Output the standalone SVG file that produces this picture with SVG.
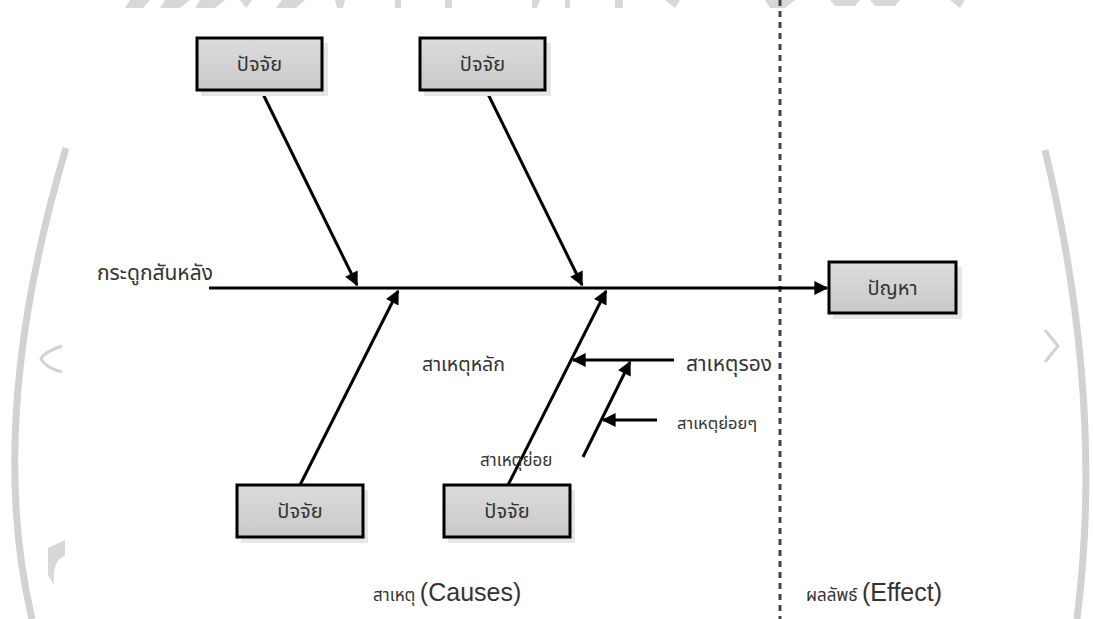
<svg xmlns="http://www.w3.org/2000/svg" width="1093" height="619" viewBox="0 0 1093 619">
<defs>
<linearGradient id="boxfill" x1="0" y1="0" x2="0" y2="1">
<stop offset="0" stop-color="#dcdcdc"/>
<stop offset="1" stop-color="#c9c9c9"/>
</linearGradient>
<marker id="ahb" viewBox="0 0 10 10" refX="9" refY="5" markerWidth="16" markerHeight="14" markerUnits="userSpaceOnUse" orient="auto">
<path d="M0,0 L10,5 L0,10 z" fill="#000"/>
</marker>
</defs>
<style>
.wm{fill:none;stroke:#d2d2d2;stroke-width:7}
.wmf{fill:#d8d8d8}
.box{fill:url(#boxfill);stroke:#000;stroke-width:3}
.shadow{fill:#e6e6e6}
.t{font-family:"Noto Sans Thai","Liberation Sans","DejaVu Sans",sans-serif;fill:#333}
.lat{font-family:"Liberation Sans",Arial,sans-serif}
.bone{stroke:#000;stroke-width:3;fill:none;marker-end:url(#ahb)}
.sub{stroke:#000;stroke-width:3;fill:none;marker-end:url(#ahb)}
</style>
<rect width="1093" height="619" fill="#fff"/>
<g id="watermark">
<path class="wm" d="M66,148 Q-15,420 32,619"/>
<path class="wm" d="M1045,150 Q1105,400 1077,619"/>
<path d="M62,346 Q44,352 41,359 Q46,368 62,372" fill="none" stroke="#d2d2d2" stroke-width="3"/>
<path d="M1045,330 L1058,346 L1045,362" fill="none" stroke="#d2d2d2" stroke-width="3"/>
<path d="M48,548 L65,540 L65,556 Q52,560 54,585 L48,575 z" class="wmf"/>
<path class="wmf" d="M130,0 L150,0 L143,8 L125,8 z M165,0 L190,0 L180,8 L160,8 z M200,0 L225,0 L215,8 L195,8 z M240,0 L252,0 L246,8 z M282,0 L305,0 L296,8 L276,8 z M335,0 L345,0 L343,8 L337,8 z M395,0 L401,0 L401,8 L395,8 z M445,0 L452,0 L452,8 L445,8 z M532,0 L540,0 L537,8 L532,8 z M565,0 L570,0 L570,8 L565,8 z M615,0 L623,0 L623,8 L615,8 z M665,0 L680,0 L675,8 z M765,0 L795,0 L785,8 L770,8 z M830,0 L860,0 L855,6 L835,6 z M870,0 L900,0 L895,6 L875,6 z M950,0 L965,0 L960,8 z"/>
</g>
<g id="divider">
<line x1="780" y1="0" x2="780" y2="619" stroke="#444" stroke-width="3" stroke-dasharray="6,5"/>
</g>
<g id="connectors">
<line x1="209" y1="288" x2="827" y2="288" stroke="#000" stroke-width="3" marker-end="url(#ahb)"/>
<line class="bone" x1="262" y1="92" x2="357" y2="285"/>
<line class="bone" x1="487" y1="92" x2="582" y2="285"/>
<line class="bone" x1="300" y1="485" x2="398" y2="291"/>
<line class="bone" x1="508" y1="485" x2="606" y2="291"/>
<line class="sub" x1="674" y1="360" x2="573" y2="360"/>
<line class="sub" x1="583" y1="457" x2="630" y2="362"/>
<line class="sub" x1="657" y1="420" x2="603" y2="420"/>
</g>
<g id="node-top1">
<rect class="shadow" x="201" y="43" width="127" height="53"/>
<rect class="box" x="197" y="38" width="125" height="52"/>
<text class="t" x="259.5" y="71" font-size="20" text-anchor="middle">ปัจจัย</text>
</g>
<g id="node-top2">
<rect class="shadow" x="424" y="43" width="127" height="53"/>
<rect class="box" x="420" y="38" width="125" height="52"/>
<text class="t" x="482.5" y="71" font-size="20" text-anchor="middle">ปัจจัย</text>
</g>
<g id="node-bottom1">
<rect class="shadow" x="241" y="490" width="127" height="53"/>
<rect class="box" x="237" y="485" width="126" height="52"/>
<text class="t" x="300" y="518" font-size="20" text-anchor="middle">ปัจจัย</text>
</g>
<g id="node-bottom2">
<rect class="shadow" x="448" y="490" width="127" height="53"/>
<rect class="box" x="444" y="485" width="126" height="52"/>
<text class="t" x="507" y="518" font-size="20" text-anchor="middle">ปัจจัย</text>
</g>
<g id="node-effect">
<rect class="shadow" x="833" y="267" width="129" height="52"/>
<rect class="box" x="829" y="262" width="127" height="51"/>
<text class="t" x="892.5" y="295" font-size="20" text-anchor="middle">ปัญหา</text>
</g>
<g id="labels">
<text class="t" x="97" y="280" font-size="21">กระดูกสันหลัง</text>
<text class="t" x="422" y="371" font-size="19.5">สาเหตุหลัก</text>
<text class="t" x="686" y="371" font-size="21">สาเหตุรอง</text>
<text class="t" x="677" y="429" font-size="16.5">สาเหตุย่อยๆ</text>
<text class="t" x="480" y="466" font-size="17">สาเหตุย่อย</text>
<text class="t" x="373" y="601" font-size="17">สาเหตุ <tspan class="lat" font-size="25">(Causes)</tspan></text>
<text class="t" x="806" y="601" font-size="17">ผลลัพธ์ <tspan class="lat" font-size="25">(Effect)</tspan></text>
</g>
</svg>
